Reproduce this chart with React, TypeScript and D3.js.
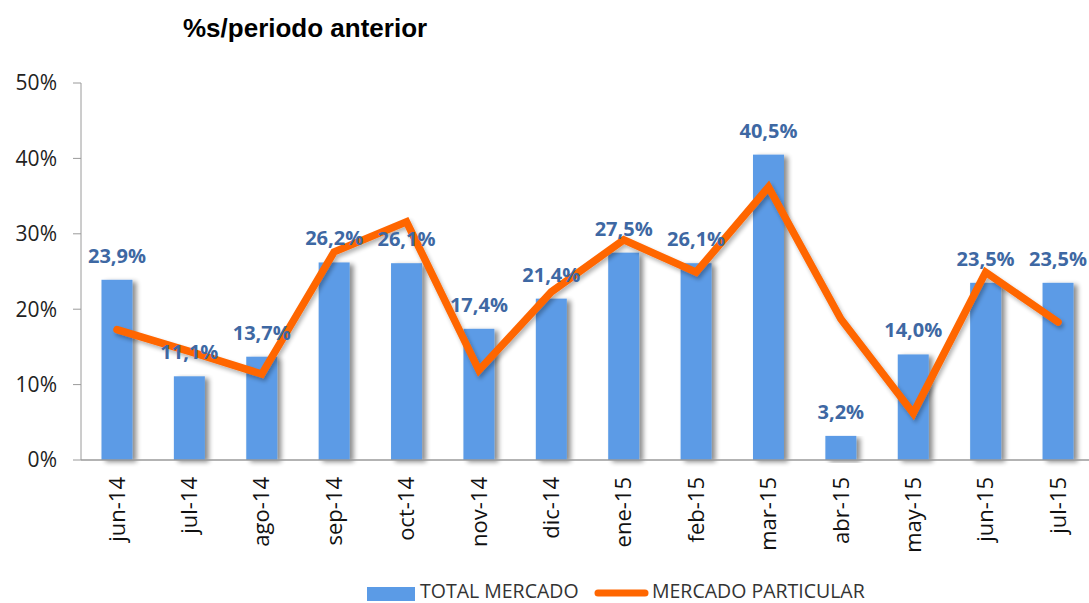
import React from "react";
import * as d3 from "d3";

const categories = ["jun-14","jul-14","ago-14","sep-14","oct-14","nov-14","dic-14","ene-15","feb-15","mar-15","abr-15","may-15","jun-15","jul-15"];
const totalMercado = [23.9, 11.1, 13.7, 26.2, 26.1, 17.4, 21.4, 27.5, 26.1, 40.5, 3.2, 14.0, 23.5, 23.5];
const mercadoParticular = [17.3, 14.4, 11.4, 27.6, 31.6, 11.9, 22.3, 29.2, 24.9, 36.2, 18.7, 6.2, 24.9, 18.3];
const yTicks = [0, 10, 20, 30, 40, 50];

const W = 1089, H = 603;
const left = 81, right = 1094, top = 83, bottom = 460;

export default function App() {
  const x = d3.scaleBand<string>().domain(categories).range([left, right]).paddingInner(0.572).paddingOuter(0.283);
  const y = d3.scaleLinear().domain([0, 50]).range([bottom, top]);
  const xc = (c: string) => (x(c) as number) + x.bandwidth() / 2;
  const line = d3.line<number>().x((_, i) => xc(categories[i])).y(d => y(d));
  const fmt = (v: number) => v.toFixed(1).replace(".", ",") + "%";
  const font = "'Open Sans', 'Noto Sans', sans-serif";
  return (
    <svg width={W} height={H} style={{ position: "absolute", left: 0, top: 0 }} fontFamily={font}>
      <defs>
        <filter id="sh" x="-20%" y="-5%" width="160%" height="115%">
          <feGaussianBlur in="SourceAlpha" stdDeviation="2.5" />
          <feOffset dx="4" dy="2" result="b" />
          <feComponentTransfer><feFuncA type="linear" slope="0.45" /></feComponentTransfer>
          <feMerge><feMergeNode /><feMergeNode in="SourceGraphic" /></feMerge>
        </filter>
        <filter id="lsh" x="-5%" y="-10%" width="110%" height="130%">
          <feGaussianBlur in="SourceAlpha" stdDeviation="2" />
          <feOffset dx="2" dy="3" />
          <feComponentTransfer><feFuncA type="linear" slope="0.3" /></feComponentTransfer>
          <feMerge><feMergeNode /><feMergeNode in="SourceGraphic" /></feMerge>
        </filter>
      </defs>
      <rect width={W} height={H} fill="#fff" />
      <text x={183} y={37} fontFamily="'Liberation Sans', Arial, sans-serif" fontWeight="bold" fontSize={26} fill="#000">%s/periodo anterior</text>
      {/* y axis */}
      <line x1={left} x2={left} y1={top} y2={bottom} stroke="#9a9a9a" strokeWidth={1} />
      {yTicks.map(t => (
        <g key={t}>
          <line x1={left - 8} x2={left} y1={y(t)} y2={y(t)} stroke="#9a9a9a" />
          <text x={57} y={y(t)} dy="0.35em" textAnchor="end" fontSize={21} fill="#222">{t}%</text>
        </g>
      ))}
      {/* bars */}
      {categories.map((c, i) => (
        <rect key={c} x={x(c)} y={y(totalMercado[i])} width={x.bandwidth()} height={bottom - y(totalMercado[i])} fill="#5b9be6" filter="url(#sh)" />
      ))}
      <line x1={left} x2={W} y1={bottom} y2={bottom} stroke="#9a9a9a" strokeWidth={1.5} />
      {/* line */}
      <path d={line(mercadoParticular) as string} fill="none" stroke="#ff6600" strokeWidth={7.5} strokeLinejoin="miter" strokeLinecap="round" filter="url(#lsh)" />
      {/* data labels */}
      {categories.map((c, i) => (
        <text key={c} x={xc(c)} y={y(totalMercado[i]) - 17} textAnchor="middle" fontSize={20} fontWeight="bold" fill="#3e68a3">{fmt(totalMercado[i])}</text>
      ))}
      {/* category labels */}
      {categories.map(c => (
        <text key={c} transform={`translate(${xc(c)},${477}) rotate(-90)`} dy="0.35em" textAnchor="end" fontSize={22} fill="#111">{c}</text>
      ))}
      {/* legend */}
      <rect x={367} y={587} width={48} height={14} fill="#5b9be6" />
      <text x={420} y={598} fontSize={19.5} fill="#333">TOTAL MERCADO</text>
      <line x1={598} x2={645} y1={593} y2={593} stroke="#ff6600" strokeWidth={7} strokeLinecap="round" />
      <text x={652} y={598} fontSize={19.5} fill="#333">MERCADO PARTICULAR</text>
    </svg>
  );
}
